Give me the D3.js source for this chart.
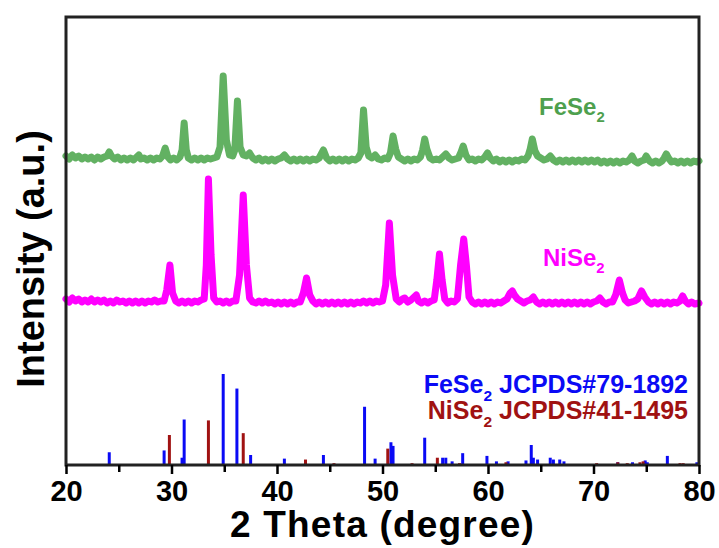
<!DOCTYPE html>
<html>
<head>
<meta charset="utf-8">
<script src="https://cdn.jsdelivr.net/npm/d3@7/dist/d3.min.js"></script>
<style>
  html, body { margin: 0; padding: 0; background: #fff; }
  svg { display: block; font-family: Arial, "Liberation Sans", Helvetica, sans-serif; }
</style>
</head>
<body>
<svg id="chart" width="719" height="548"></svg>
<script>
// ---- data -------------------------------------------------------------
// x-axis ticks (2 theta, degrees)
const majorTicks = [20, 30, 40, 50, 60, 70, 80];
const minorTicks = [25, 35, 45, 55, 65, 75];

// measured FeSe2 pattern, [2theta, intensity (a.u., stacked)]
const feSe2Pattern = [
  [20.0,309],[20.3,306],[20.6,310],[20.9,307],[21.2,309],[21.5,306],[21.8,308],[22.1,306],[22.4,308],[22.7,305],
  [23.0,308],[23.3,306],[23.6,308],[23.9,309],[24.1,313],[24.3,309],[24.6,306],[24.9,308],[25.2,305],[25.5,307],
  [25.8,305],[26.1,307],[26.4,305],[26.7,308],[26.9,310],[27.1,306],[27.4,307],[27.7,305],[28.0,307],[28.3,305],
  [28.6,307],[28.9,306],[29.15,309],[29.4,317],[29.65,308],[29.9,305],[30.2,307],[30.5,305],[30.8,308],[31.0,315],
  [31.2,342],[31.4,315],[31.6,307],[31.9,305],[32.2,307],[32.5,305],[32.8,307],[33.1,305],[33.4,307],[33.7,306],
  [34.0,307],[34.3,308],[34.6,318],[34.9,389],[35.2,325],[35.5,310],[35.8,309],[36.0,315],[36.25,364],[36.5,318],
  [36.8,310],[37.1,309],[37.4,312],[37.7,307],[38.0,305],[38.3,307],[38.6,304],[38.9,306],[39.2,304],[39.5,306],
  [39.8,304],[40.1,306],[40.4,307],[40.7,310],[41.0,306],[41.3,304],[41.6,306],[41.9,304],[42.2,306],[42.5,304],
  [42.8,306],[43.1,304],[43.4,306],[43.7,305],[44.0,307],[44.4,315],[44.7,307],[45.0,304],[45.3,306],[45.6,304],
  [45.9,306],[46.2,304],[46.5,306],[46.8,304],[47.1,306],[47.4,305],[47.7,307],[47.95,312],[48.2,355],[48.45,318],
  [48.7,309],[49.0,307],[49.3,310],[49.6,306],[49.9,305],[50.2,307],[50.5,306],[50.75,312],[51.0,329],[51.25,316],
  [51.5,308],[51.8,306],[52.1,304],[52.4,306],[52.7,304],[53.0,306],[53.3,305],[53.6,308],[53.8,315],[54.0,326],
  [54.2,316],[54.5,307],[54.8,305],[55.1,306],[55.4,305],[55.7,308],[56.0,311],[56.3,307],[56.6,305],[56.9,306],
  [57.2,307],[57.45,313],[57.65,319],[57.9,310],[58.2,305],[58.5,306],[58.8,304],[59.1,306],[59.4,305],[59.7,308],
  [59.95,312],[60.2,307],[60.5,304],[60.8,306],[61.1,303],[61.4,305],[61.7,303],[62.0,305],[62.3,303],[62.6,305],
  [62.9,304],[63.2,306],[63.5,305],[63.8,309],[64.0,316],[64.2,326],[64.45,314],[64.7,309],[65.0,307],[65.3,305],
  [65.6,306],[65.9,309],[66.2,305],[66.5,303],[66.8,305],[67.1,303],[67.4,305],[67.7,303],[68.0,305],[68.3,303],
  [68.6,305],[68.9,303],[69.2,305],[69.5,303],[69.8,305],[70.1,303],[70.4,305],[70.7,302],[71.0,304],[71.3,302],
  [71.6,304],[71.9,302],[72.2,304],[72.5,302],[72.8,304],[73.1,303],[73.4,305],[73.65,309],[73.9,304],[74.2,302],
  [74.5,304],[74.8,305],[75.0,309],[75.3,304],[75.6,302],[75.9,304],[76.2,302],[76.5,304],[76.7,307],[76.9,311],
  [77.1,307],[77.4,303],[77.7,304],[78.0,302],[78.3,304],[78.6,302],[78.9,304],[79.2,302],[79.5,304],[79.8,303],
  [80.0,304]
];

// measured NiSe2 pattern, [2theta, intensity (a.u., stacked)]
const niSe2Pattern = [
  [20.0,166],[20.3,163],[20.6,167],[20.9,164],[21.2,166],[21.5,163],[21.8,165],[22.1,163],[22.4,166],[22.7,163],
  [23.0,165],[23.3,163],[23.6,165],[23.9,162],[24.2,164],[24.5,162],[24.8,165],[25.1,163],[25.4,164],[25.7,162],
  [26.0,164],[26.3,162],[26.6,164],[26.9,162],[27.2,164],[27.5,162],[27.8,164],[28.1,163],[28.4,165],[28.7,163],
  [29.0,164],[29.3,164],[29.55,175],[29.85,200],[30.1,172],[30.4,164],[30.7,162],[31.0,164],[31.3,162],[31.6,164],
  [31.9,162],[32.2,164],[32.5,163],[32.8,165],[33.1,166],[33.3,200],[33.5,286],[33.75,210],[34.0,167],[34.3,163],
  [34.6,164],[34.9,162],[35.2,164],[35.5,162],[35.8,164],[36.1,164],[36.45,190],[36.8,270],[37.1,200],[37.4,167],
  [37.7,163],[38.0,162],[38.3,164],[38.6,162],[38.9,164],[39.2,162],[39.5,163],[39.8,161],[40.1,163],[40.4,161],
  [40.7,163],[41.0,161],[41.3,163],[41.6,161],[41.9,163],[42.2,163],[42.5,172],[42.8,187],[43.1,170],[43.4,164],
  [43.7,161],[44.0,163],[44.3,161],[44.6,163],[44.9,161],[45.2,163],[45.5,161],[45.8,163],[46.1,161],[46.4,163],
  [46.7,161],[47.0,163],[47.3,161],[47.6,163],[47.9,162],[48.2,164],[48.5,162],[48.8,164],[49.1,162],[49.4,164],
  [49.7,163],[50.0,164],[50.3,180],[50.65,242],[50.95,190],[51.3,166],[51.6,163],[51.9,166],[52.1,167],[52.4,163],
  [52.7,165],[53.0,168],[53.2,170],[53.4,164],[53.7,162],[54.0,164],[54.3,162],[54.6,164],[54.9,165],[55.15,185],
  [55.4,211],[55.65,185],[55.9,166],[56.2,162],[56.5,164],[56.8,163],[57.1,166],[57.4,200],[57.7,226],[57.95,200],
  [58.2,168],[58.5,163],[58.8,161],[59.1,163],[59.4,161],[59.7,163],[60.0,161],[60.3,163],[60.6,161],[60.9,163],
  [61.2,162],[61.5,164],[61.8,166],[62.1,172],[62.3,174],[62.5,170],[62.8,166],[63.1,164],[63.4,162],[63.7,164],
  [64.0,165],[64.3,168],[64.6,163],[64.9,161],[65.2,163],[65.5,161],[65.8,163],[66.1,161],[66.4,163],[66.7,161],
  [67.0,163],[67.3,161],[67.6,163],[67.9,161],[68.2,163],[68.5,161],[68.8,163],[69.1,161],[69.4,163],[69.7,161],
  [70.0,163],[70.3,164],[70.6,167],[70.9,163],[71.2,161],[71.5,163],[71.8,163],[72.1,170],[72.45,185],[72.75,172],
  [73.0,165],[73.3,162],[73.6,163],[73.9,164],[74.2,166],[74.55,174],[74.85,168],[75.2,163],[75.5,161],[75.8,163],
  [76.1,161],[76.4,163],[76.7,161],[77.0,163],[77.3,161],[77.6,163],[77.9,162],[78.2,164],[78.45,169],[78.7,164],
  [79.0,161],[79.3,163],[79.6,161],[80.0,162]
];

// standard reference lines, [2theta, relative intensity %]
const feSe2Ref = [
  [24.1,14],[29.3,16],[31.0,8],[31.2,50],[34.9,100],[36.2,84],[37.5,11],[40.7,7],[44.4,11],[48.3,64],
  [49.3,7],[50.8,25],[51.0,21],[54.0,30],[55.7,8],[56.0,8],[56.6,4],[57.6,13],[59.9,10],[60.8,4],
  [61.9,4],[63.6,5],[64.1,22],[64.3,8],[64.7,6],[65.9,8],[66.2,6],[66.8,6],[67.2,4],[72.3,3],
  [73.7,3],[74.9,5],[75.1,3],[77.0,10],[79.8,3]
];
const niSe2Ref = [
  [29.8,33],[33.5,49],[36.8,35],[42.7,6],[45.4,2],[50.5,18],[52.8,2],[55.2,8],[57.3,2],[61.7,3],
  [70.3,2],[72.3,3],[73.2,2],[74.4,3],[74.7,4],[78.2,2],[78.5,2]
];

// ---- layout -----------------------------------------------------------
const svg = d3.select("#chart");
const margin = { left: 66, right: 20, top: 17, bottom: 83 };
const W = 719, H = 548;
const plotW = W - margin.left - margin.right;
const plotH = H - margin.top - margin.bottom;

const x = d3.scaleLinear().domain([20, 80]).range([margin.left, margin.left + plotW]);
const y = d3.scaleLinear().domain([0, 448]).range([margin.top + plotH, margin.top]);
// reference lines occupy the bottom band of the frame
const yRef = d3.scaleLinear().domain([0, 100]).range([y(0), y(91)]);

const plot = svg.append("g");

// reference sticks
plot.append("g").selectAll("line")
  .data(feSe2Ref).join("line")
  .attr("x1", d => x(d[0])).attr("x2", d => x(d[0]))
  .attr("y1", yRef(0)).attr("y2", d => yRef(d[1]))
  .attr("stroke", "#0a0af5").attr("stroke-width", 3);

plot.append("g").selectAll("line")
  .data(niSe2Ref).join("line")
  .attr("x1", d => x(d[0])).attr("x2", d => x(d[0]))
  .attr("y1", yRef(0)).attr("y2", d => yRef(d[1]))
  .attr("stroke", "#a01212").attr("stroke-width", 3);

// measured patterns
const line = d3.line().x(d => x(d[0])).y(d => y(d[1]));

plot.append("path")
  .datum(feSe2Pattern)
  .attr("d", line)
  .attr("fill", "none")
  .attr("stroke", "#62b162")
  .attr("stroke-width", 7)
  .attr("stroke-linejoin", "round")
  .attr("stroke-linecap", "round");

plot.append("path")
  .datum(niSe2Pattern)
  .attr("d", line)
  .attr("fill", "none")
  .attr("stroke", "#ff00ff")
  .attr("stroke-width", 7)
  .attr("stroke-linejoin", "round")
  .attr("stroke-linecap", "round");

// frame
svg.append("rect")
  .attr("x", margin.left).attr("y", margin.top)
  .attr("width", plotW).attr("height", plotH)
  .attr("fill", "none").attr("stroke", "#222").attr("stroke-width", 3);

// x axis: minor ticks, then major ticks with labels
const axisG = svg.append("g").attr("transform", `translate(0,${y(0)})`);
axisG.append("g")
  .call(d3.axisBottom(x).tickValues(minorTicks).tickSize(7).tickFormat(""))
  .call(g => g.select(".domain").remove())
  .call(g => g.selectAll("line").attr("stroke", "#000").attr("stroke-width", 2.5));
axisG.append("g")
  .call(d3.axisBottom(x).tickValues(majorTicks).tickSize(9).tickPadding(6).tickFormat(d3.format("d")))
  .call(g => g.select(".domain").remove())
  .call(g => g.selectAll("line").attr("stroke", "#000").attr("stroke-width", 2.5))
  .call(g => g.selectAll("text")
    .attr("fill", "#000")
    .style("font-size", "29px")
    .style("font-weight", "bold")
    .style("font-family", "Arial, 'Liberation Sans', sans-serif"));

// axis titles
svg.append("text")
  .attr("x", x(50)).attr("y", 537)
  .attr("text-anchor", "middle")
  .style("font-size", "37px").style("font-weight", "bold")
  .style("letter-spacing", "1.2px")
  .text("2 Theta (degree)");

svg.append("text")
  .attr("transform", `translate(44,259) rotate(-90)`)
  .attr("text-anchor", "middle")
  .style("font-size", "38px").style("font-weight", "bold")
  .text("Intensity (a.u.)");

// labels with subscripts
function formula(g, xPos, yPos, main, sub, rest, color, size, anchor) {
  const t = g.append("text")
    .attr("x", xPos).attr("y", yPos)
    .attr("text-anchor", anchor)
    .attr("fill", color)
    .style("font-size", size + "px").style("font-weight", "bold");
  t.append("tspan").text(main);
  t.append("tspan").attr("dy", size * 0.3).style("font-size", (size * 0.62) + "px").text(sub);
  if (rest) t.append("tspan").attr("dy", -size * 0.3).text(rest);
  return t;
}

formula(svg, 539, 115, "FeSe", "2", null, "#4ea04e", 24, "start");
formula(svg, 543, 266, "NiSe", "2", null, "#ff00ff", 24, "start");
formula(svg, 688, 393, "FeSe", "2", " JCPDS#79-1892", "#0a0af5", 25, "end");
formula(svg, 688, 419, "NiSe", "2", " JCPDS#41-1495", "#a01212", 25, "end");
</script>
</body>
</html>
